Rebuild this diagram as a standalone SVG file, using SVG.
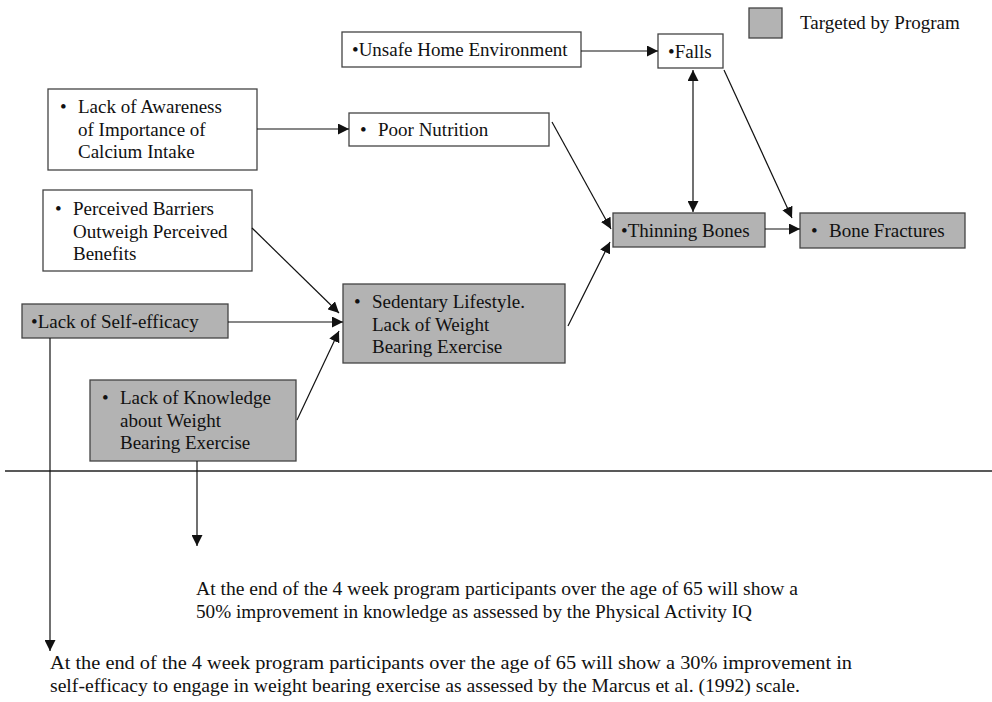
<svg xmlns="http://www.w3.org/2000/svg" width="992" height="702" viewBox="0 0 992 702">
<style>
.w{fill:#fff;stroke:#444;stroke-width:1.3}
.g{fill:#b3b3b3;stroke:#444;stroke-width:1.3}
text{font-family:"Liberation Serif","Times New Roman",serif;font-size:19px;fill:#111}
.c line{stroke:#111;stroke-width:1.2;fill:none}
</style>
<defs>
<marker id="a" viewBox="0 0 10 10" refX="10" refY="5" markerWidth="11" markerHeight="11" markerUnits="userSpaceOnUse" orient="auto-start-reverse">
<path d="M0,0 L10,5 L0,10 z" fill="#111"/>
</marker>
</defs>
<rect width="992" height="702" fill="#fff"/>
<g id="legend">
<rect class="g" x="749" y="8" width="33" height="30"/>
<text x="800" y="29">Targeted by Program</text>
</g>
<g id="unsafe">
<rect class="w" x="342" y="32" width="239" height="35"/>
<text x="352" y="56">•Unsafe Home Environment</text>
</g>
<g id="falls">
<rect class="w" x="658" y="34" width="65" height="34"/>
<text x="668" y="58">•Falls</text>
</g>
<g id="awareness">
<rect class="w" x="48" y="89" width="209" height="81"/>
<text x="60" y="113">•</text>
<text x="78" y="113">Lack of Awareness</text>
<text x="78" y="136">of Importance of</text>
<text x="78" y="158">Calcium Intake</text>
</g>
<g id="nutrition">
<rect class="w" x="349" y="113" width="200" height="33"/>
<text x="360" y="136">•</text>
<text x="378" y="136">Poor Nutrition</text>
</g>
<g id="barriers">
<rect class="w" x="43" y="190" width="209" height="81"/>
<text x="55" y="215">•</text>
<text x="73" y="215">Perceived Barriers</text>
<text x="73" y="238">Outweigh Perceived</text>
<text x="73" y="260">Benefits</text>
</g>
<g id="thinning">
<rect class="g" x="613" y="213" width="152" height="34"/>
<text x="621" y="237">•Thinning Bones</text>
</g>
<g id="fractures">
<rect class="g" x="800" y="213" width="165" height="35"/>
<text x="811" y="237">•</text>
<text x="829" y="237">Bone Fractures</text>
</g>
<g id="selfefficacy">
<rect class="g" x="22" y="304" width="206" height="34"/>
<text x="31" y="328">•Lack of Self-efficacy</text>
</g>
<g id="sedentary">
<rect class="g" x="343" y="284" width="222" height="79"/>
<text x="354" y="308">•</text>
<text x="372" y="308">Sedentary Lifestyle.</text>
<text x="372" y="331">Lack of Weight</text>
<text x="372" y="353">Bearing Exercise</text>
</g>
<g id="knowledge">
<rect class="g" x="90" y="380" width="206" height="81"/>
<text x="102" y="404">•</text>
<text x="120" y="404">Lack of Knowledge</text>
<text x="120" y="427">about Weight</text>
<text x="120" y="449">Bearing Exercise</text>
</g>
<g id="objective1">
<text x="196" y="595" textLength="602" lengthAdjust="spacingAndGlyphs">At the end of the 4 week program participants over the age of 65 will show a</text>
<text x="196" y="618" textLength="556" lengthAdjust="spacingAndGlyphs">50% improvement in knowledge as assessed by the Physical Activity IQ</text>
</g>
<g id="objective2">
<text x="50" y="669" textLength="802" lengthAdjust="spacingAndGlyphs">At the end of the 4 week program participants over the age of 65 will show a 30% improvement in</text>
<text x="50" y="692" textLength="750" lengthAdjust="spacingAndGlyphs">self-efficacy to engage in weight bearing exercise as assessed by the Marcus et al. (1992) scale.</text>
</g>
<line x1="5" y1="471" x2="992" y2="471" stroke="#222" stroke-width="1.3"/>
<g class="c">
<line x1="581" y1="51" x2="658" y2="51" marker-end="url(#a)"/>
<line x1="257" y1="129" x2="349" y2="129" marker-end="url(#a)"/>
<line x1="552" y1="122" x2="611" y2="229" marker-end="url(#a)"/>
<line x1="568" y1="326" x2="610" y2="242" marker-end="url(#a)"/>
<line x1="693" y1="70" x2="693" y2="212" marker-start="url(#a)" marker-end="url(#a)"/>
<line x1="724" y1="70" x2="792" y2="218" marker-end="url(#a)"/>
<line x1="765" y1="229" x2="800" y2="229" marker-end="url(#a)"/>
<line x1="252" y1="228" x2="339" y2="313" marker-end="url(#a)"/>
<line x1="228" y1="322" x2="343" y2="322" marker-end="url(#a)"/>
<line x1="297" y1="420" x2="339" y2="331" marker-end="url(#a)"/>
<line x1="197" y1="461" x2="197" y2="546" marker-end="url(#a)"/>
<line x1="50" y1="338" x2="50" y2="651" marker-end="url(#a)"/>
</g>
</svg>
